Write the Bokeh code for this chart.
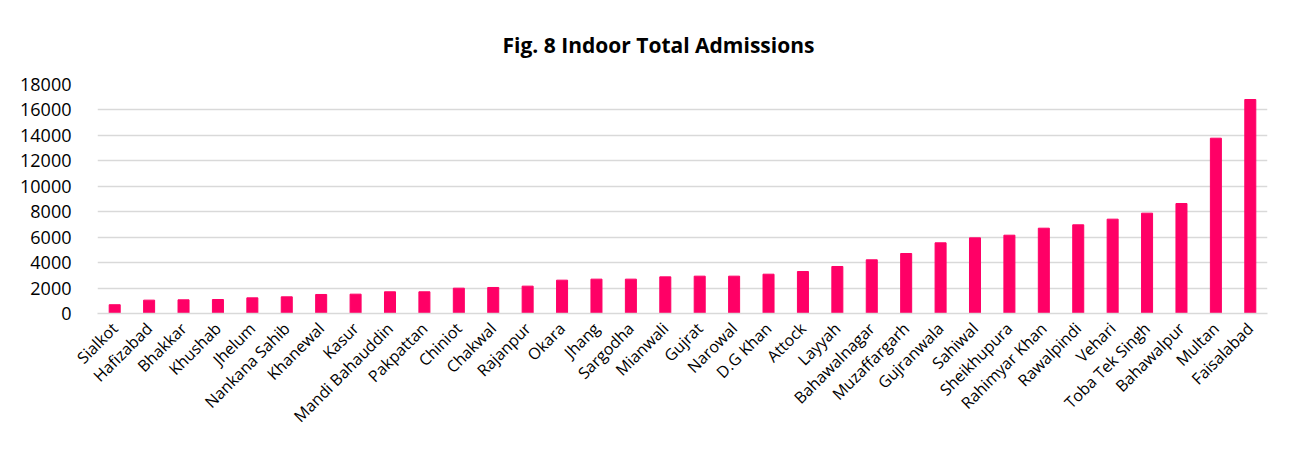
import math
from bokeh.plotting import figure
from bokeh.models import ColumnDataSource, SingleIntervalTicker, NumeralTickFormatter
from bokeh.embed import file_html
from bokeh.resources import INLINE

districts = ["Sialkot", "Hafizabad", "Bhakkar", "Khushab", "Jhelum", "Nankana Sahib",
             "Khanewal", "Kasur", "Mandi Bahauddin", "Pakpattan", "Chiniot", "Chakwal",
             "Rajanpur", "Okara", "Jhang", "Sargodha", "Mianwali", "Gujrat", "Narowal",
             "D.G Khan", "Attock", "Layyah", "Bahawalnagar", "Muzaffargarh", "Gujranwala",
             "Sahiwal", "Sheikhupura", "Rahimyar Khan", "Rawalpindi", "Vehari",
             "Toba Tek Singh", "Bahawalpur", "Multan", "Faisalabad"]
admissions = [690, 1050, 1075, 1100, 1230, 1310, 1495, 1520, 1705, 1705, 1990, 2045,
              2150, 2620, 2700, 2700, 2880, 2935, 2935, 3090, 3300, 3695, 4220, 4715,
              5555, 5945, 6155, 6705, 6970, 7415, 7885, 8645, 13780, 16820]
title_text = "Fig. 8 Indoor Total Admissions"

FONT = "Open Sans"

src = ColumnDataSource(dict(x=districts, y=admissions))

p = figure(x_range=districts, y_range=(0, 18000), width=1278, height=437,
           output_backend="svg", toolbar_location=None,
           min_border_left=97, min_border_right=11, min_border_top=84, min_border_bottom=123)

p.vbar(x="x", top="y", width=0.32, source=src, color="#FF0066")

p.title.text = title_text
p.title.align = "left"
p.title.text_font = FONT
p.title.text_font_size = "21px"
p.title.text_font_style = "bold"
p.title.text_color = "#000000"
p.title.standoff = 52
p.title.offset = 405

p.outline_line_color = None
p.background_fill_color = "white"
p.border_fill_color = "white"

p.xgrid.grid_line_color = None
p.ygrid.grid_line_color = "#d9d9d9"
p.ygrid.grid_line_width = 1.3
p.yaxis.ticker = SingleIntervalTicker(interval=2000)
p.yaxis.formatter = NumeralTickFormatter(format="0")

p.yaxis.axis_line_color = None
p.yaxis.major_tick_line_color = None
p.yaxis.minor_tick_line_color = None
p.yaxis.major_label_text_font = FONT
p.yaxis.major_label_text_font_size = "18px"
p.yaxis.major_label_text_color = "#000000"
p.yaxis.major_label_standoff = 20

p.xaxis.axis_line_color = "#d9d9d9"
p.xaxis.axis_line_width = 1.3
p.xaxis.major_tick_line_color = None
p.xaxis.minor_tick_line_color = None
p.xaxis.major_label_orientation = math.pi / 4
p.xaxis.major_label_text_font = FONT
p.xaxis.major_label_text_font_size = "16px"
p.xaxis.major_label_text_color = "#000000"
p.xaxis.major_label_standoff = 6

open("out.html", "w").write(file_html(p, INLINE))
